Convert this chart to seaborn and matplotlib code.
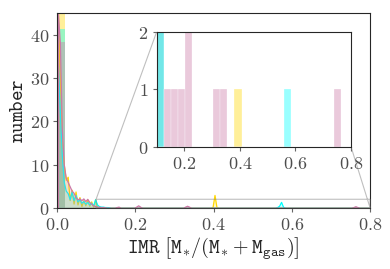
import numpy as np
import pandas as pd
import matplotlib
matplotlib.use("Agg")
import matplotlib.pyplot as plt
import seaborn as sns
from matplotlib.ticker import FormatStrFormatter

sns.set_style("ticks")
plt.rcParams["mathtext.fontset"] = "cm"
plt.rcParams["font.family"] = ["DejaVu Serif"]

# run names and colours
runs = ["pink", "cyan", "gold", "slate"]
colors = {"pink": "#cc79a7", "cyan": "#00ffff", "gold": "#ffd700", "slate": "#5f9ea0"}

# main panel: single wide bin at low IMR
main_edges = [0.0, 0.02]
main_pink = [38.4]
main_cyan = [41.4]
main_gold = [44.8]

# inset: coarse histogram, bin width 0.0255 starting at 0.1
ins_edges = 0.1 + 0.0255 * np.arange(29)
ins_pink = [0, 1, 1, 1, 2, 0, 0, 0, 1, 1, 0, 0, 0, 0,
            0, 0, 0, 0, 0, 0, 0, 0, 0, 0, 0, 1, 0, 0]
ins_cyan = [2, 0, 0, 0, 0, 0, 0, 0, 0, 0, 0, 0, 0, 0,
            0, 0, 0, 0, 1, 0, 0, 0, 0, 0, 0, 0, 0, 0]
ins_gold = [0, 0, 0, 0, 0, 0, 0, 0, 0, 0, 0, 1, 0, 0,
            0, 0, 0, 0, 0, 0, 0, 0, 0, 0, 0, 0, 0, 0]
ins_slate = [2, 0, 0, 0, 0, 0, 0, 0, 0, 0, 0, 0, 0, 0,
             0, 0, 0, 0, 0, 0, 0, 0, 0, 0, 0, 0, 0, 0]

# fine histogram (lines), bin width 0.005 from 0 to 0.8
line_edges = np.linspace(0, 0.8, 161)
pink_head = [45, 38, 18, 10, 7, 6, 5, 4, 3.5, 2.5, 2, 2.2, 1.8, 2.2, 1.6,
             2.1, 1.4, 1.0, 0.6, 0.4, 0.3, 0.3, 0.2, 0.2, 0.1]
cyan_head = [33, 22, 12, 6, 4, 3.4, 2, 3.8, 1.8, 3, 1.5, 2, 1.2, 1.6, 1.0,
             1.4, 0.8, 1.2, 0.6, 2.0, 0.8, 0.4, 0.3, 0.3, 0.2, 0.2, 0.1]
gold_head = [45, 30, 15, 10, 6.5, 7.2, 1.8, 4.2, 1, 3.8, 0.8, 2.5, 0.4, 1.8,
             0.6, 2, 0.5, 1.5, 0.2, 2, 0.3, 0.1]
# isolated bumps further out: bin centre and value
pink_bump_x = [0.1525, 0.1575, 0.2025, 0.2075, 0.2125, 0.3275, 0.3325, 0.3375,
               0.7575, 0.7625, 0.7675]
pink_bump_n = [0.2, 0.3, 0.3, 0.6, 0.3, 0.3, 0.5, 0.3, 0.2, 0.4, 0.2]
cyan_bump_x = [0.5625, 0.5675, 0.5725, 0.5775]
cyan_bump_n = [0.2, 0.5, 1.4, 0.3]
gold_bump_x = [0.3975, 0.4025, 0.4075]
gold_bump_n = [0.2, 3.0, 0.2]


def to_frame(edges, series):
    edges = np.asarray(edges)
    centres = 0.5 * (edges[:-1] + edges[1:])
    df = pd.concat([pd.DataFrame({"imr": centres, "n": counts, "run": name})
                    for name, counts in series])
    return df[df["n"] > 0]


main_bars = to_frame(main_edges, [("pink", main_pink), ("cyan", main_cyan), ("gold", main_gold)])
ins_bars = to_frame(ins_edges, [("pink", ins_pink), ("cyan", ins_cyan),
                                ("gold", ins_gold), ("slate", ins_slate)])

line_centres = 0.5 * (line_edges[:-1] + line_edges[1:])
line_parts = []
for name, head, bx, bn in [("pink", pink_head, pink_bump_x, pink_bump_n),
                           ("cyan", cyan_head, cyan_bump_x, cyan_bump_n),
                           ("gold", gold_head, gold_bump_x, gold_bump_n)]:
    line_parts.append(pd.DataFrame({"imr": np.concatenate([line_centres[:len(head)], bx]),
                                    "n": np.concatenate([head, bn]), "run": name}))
lines = pd.concat(line_parts)

fig = plt.figure(figsize=(3.9, 2.69), dpi=100)
ax = fig.add_axes([0.146, 0.227, 0.803, 0.725])

sns.histplot(data=main_bars, x="imr", weights="n", hue="run", hue_order=runs[:3],
             palette=colors, bins=main_edges, alpha=0.4, linewidth=0,
             legend=False, ax=ax)
sns.histplot(data=lines, x="imr", weights="n", hue="run", hue_order=runs[:3],
             palette=colors, bins=list(line_edges), element="poly", alpha=0.2,
             linewidth=0.9, legend=False, ax=ax)

ax.set_xlim(0, 0.8)
ax.set_ylim(0, 45)
ax.set_xticks([0, 0.2, 0.4, 0.6, 0.8])
ax.set_yticks([0, 10, 20, 30, 40])
ax.xaxis.set_major_formatter(FormatStrFormatter(r"$%.1f$"))
ax.yaxis.set_major_formatter(FormatStrFormatter(r"$%d$"))
ax.tick_params(labelsize=13, colors="0.4", labelcolor="0.3", length=2.7, pad=3)
ax.set_xlabel(r"$\mathtt{IMR}\ \left[\mathtt{M}_{*}/(\mathtt{M}_{*}+\mathtt{M}_{\mathtt{gas}})\right]$",
              fontsize=14.5, labelpad=1)
ax.set_ylabel(r"$\mathtt{number}$", fontsize=14.5, labelpad=2)

# zoomed inset
axins = ax.inset_axes([0.318, 0.314, 0.621, 0.587])
sns.histplot(data=ins_bars, x="imr", weights="n", hue="run", hue_order=runs,
             palette=colors, bins=list(ins_edges), alpha=0.4, edgecolor="white",
             linewidth=0.2, legend=False, ax=axins)
axins.set_xlim(0.1, 0.8)
axins.set_ylim(0, 2)
axins.set_xticks([0.2, 0.4, 0.6, 0.8])
axins.set_yticks([0, 1, 2])
axins.xaxis.set_major_formatter(FormatStrFormatter(r"$%.1f$"))
axins.yaxis.set_major_formatter(FormatStrFormatter(r"$%d$"))
axins.tick_params(labelsize=13, colors="0.4", labelcolor="0.3", length=2.7, pad=3)
axins.set_xlabel("")
axins.set_ylabel("")

ind = ax.indicate_inset_zoom(axins, edgecolor="0.5", linewidth=0.8)
for c, vis in zip(ind.connectors, [False, True, True, False]):
    c.set_visible(vis)

fig.savefig("out.png", dpi=100)
